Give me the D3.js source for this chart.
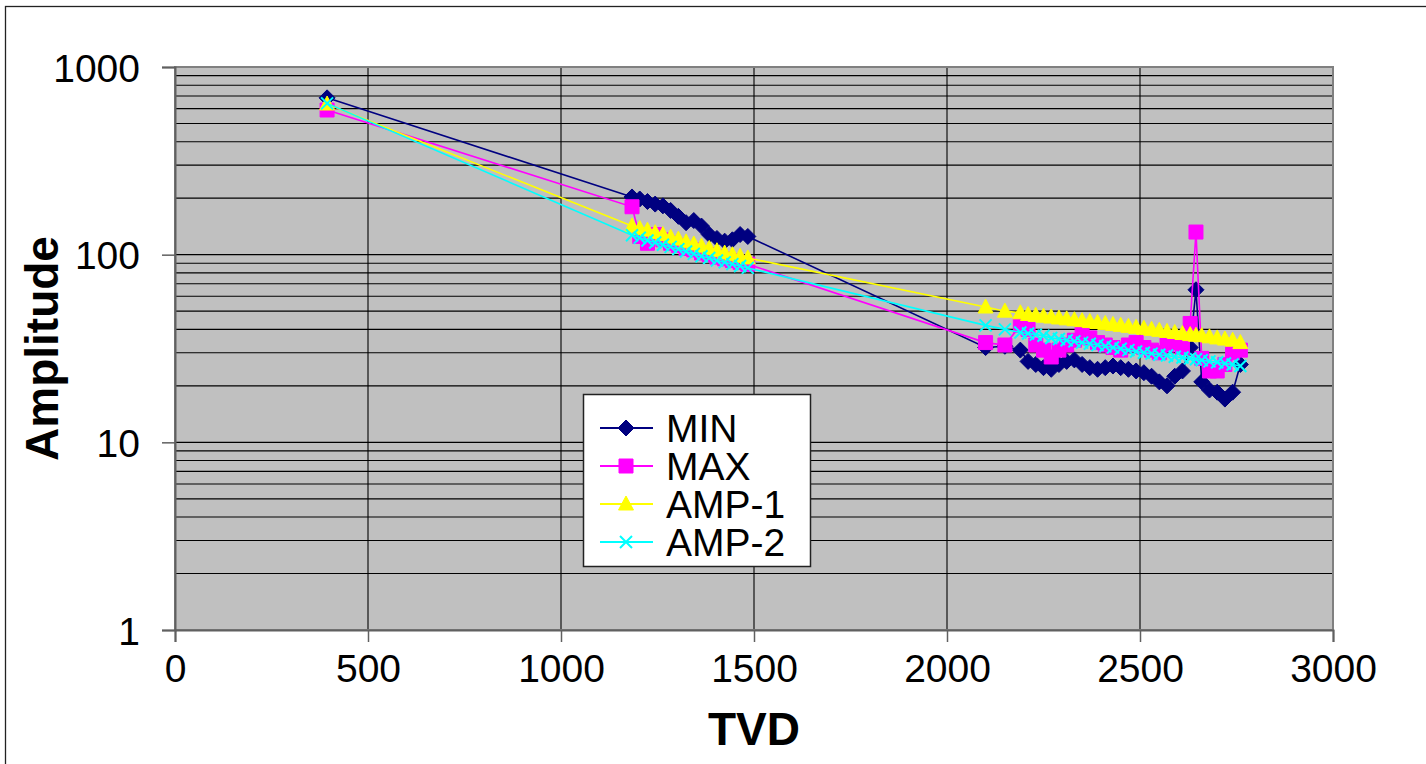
<!DOCTYPE html>
<html><head><meta charset="utf-8">
<script src="https://cdn.jsdelivr.net/npm/d3@7"></script>
<style>body{margin:0;background:#fff}svg{display:block;font-family:"Liberation Sans",Arial,sans-serif}</style>
</head><body><svg id="c" width="1426" height="764"></svg>
<script>
const tvd = [394,
 1184,1204,1224,1244,1264,1284,1304,1324,1344,1364,1384,1404,1424,1444,1464,1484,
 2100,2150,
 2190,2210,2230,2250,2270,2290,2310,2330,2350,2370,2390,2410,2430,2450,2470,2490,2510,2530,2550,2570,2590,2610,2630,
 2645,
 2660,2680,2700,2720,2740,2760];
const minVals = [685,
 203,198,192,186,182,172,160,148,152,142,128,122,118,120,128,125,
 32,32.5,
 31,27,26,25,24.5,26,27,27.5,26,25,24.5,25,25.5,25,24.5,24,23.5,22.5,21,20,22.5,24,32,
 65,
 21,19,18.5,17,18.5,26];
const maxVals = [590,
 180,125,115,128,120,115,112,108,106,102,100,97,95,93,91,89,
 34,33,
 42,40,33,31,28.5,31,33,35,38,36,34,33,32,31,33,34,32,31,30,33,34,32,43,
 132,
 28,24,24,26,30,31];
const amp1Vals = [635,
 142,138,135,131,128,124,121,117,114,111,108,105,102,100,98,96,
 52.6,50,
 49,48,47.5,47,46.5,46,45.5,45,44.5,44,43.5,43,42.5,42,41.5,41,40.5,40,39.5,39,38.5,38,37.5,
 37.2,
 37,36.5,36,35.5,35,34];
const amp2Vals = [640,
 127,123,119,116,113,110,107,104,101,98,96,93,91,89,87,85,
 42,40,
 38.5,38,37.5,37,36,35.5,35,34.5,34,33.5,33,32.5,32,31.5,31,30.5,30,29.7,29.3,29,28.6,28.3,28,
 27.7,
 27.4,27,26.7,26.3,26,25.5];
const seriesNames = ["MIN","MAX","AMP-1","AMP-2"];
const xTicks = [0,500,1000,1500,2000,2500,3000];
const yTicks = [1,10,100,1000];

const series = [
 {name:seriesNames[0], vals:minVals, color:"#000080", marker:"diamond"},
 {name:seriesNames[1], vals:maxVals, color:"#FF00FF", marker:"square"},
 {name:seriesNames[2], vals:amp1Vals, color:"#FFFF00", marker:"triangle"},
 {name:seriesNames[3], vals:amp2Vals, color:"#00FFFF", marker:"x"}
];

const svg = d3.select("#c");
const L=175, R=1333, T=67, B=630;
const x = d3.scaleLinear().domain([0,3000]).range([L,R]);
const y = d3.scaleLog().domain([1,1000]).range([B,T]);

svg.append("rect").attr("x",5.5).attr("y",6.5).attr("width",1440).attr("height",780)
  .attr("fill","#fff").attr("stroke","#222").attr("stroke-width",1.3);

svg.append("rect").attr("x",L).attr("y",T).attr("width",R-L).attr("height",B-T).attr("fill","#C0C0C0");

const gridY = [];
for (let k=0;k<3;k++) for (let m=1;m<=9;m++) gridY.push(m*Math.pow(10,k));
gridY.push(1000);
svg.append("g").selectAll("line").data(gridY).join("line")
  .attr("x1",L).attr("x2",R).attr("y1",d=>y(d)).attr("y2",d=>y(d))
  .attr("stroke","#000").attr("stroke-width",1.1);
svg.append("g").selectAll("line").data(xTicks.slice(1,-1)).join("line")
  .attr("x1",d=>x(d)).attr("x2",d=>x(d)).attr("y1",T).attr("y2",B)
  .attr("stroke","#000").attr("stroke-width",1.1);

svg.append("rect").attr("x",L).attr("y",T).attr("width",R-L).attr("height",B-T)
  .attr("fill","none").attr("stroke","#808080").attr("stroke-width",2);

const yAxis = d3.axisLeft(y).tickValues(yTicks).tickFormat(d3.format("d")).tickSize(13).tickPadding(22);
const gy = svg.append("g").attr("transform",`translate(${L},0)`).call(yAxis);
const xAxis = d3.axisBottom(x).tickValues(xTicks).tickFormat(d3.format("d")).tickSize(12).tickPadding(12);
const gx = svg.append("g").attr("transform",`translate(0,${B})`).call(xAxis);
[gx,gy].forEach(g=>{
  g.select(".domain").attr("stroke","#606060").attr("stroke-width",2);
  g.selectAll(".tick line").attr("stroke","#606060").attr("stroke-width",1.5);
  g.selectAll(".tick text").attr("font-size",39).attr("fill","#000")
   .attr("font-family","'Liberation Sans',Arial,sans-serif");
});
gy.selectAll(".tick text").attr("dy","0.36em");
gx.selectAll(".tick text").attr("dy","0.72em");

svg.append("text").attr("x",(L+R)/2).attr("y",745).attr("text-anchor","middle")
  .attr("font-size",46).attr("font-weight","bold").text("TVD");
svg.append("text").attr("transform",`translate(58,${(T+B)/2}) rotate(-90)`).attr("text-anchor","middle")
  .attr("font-size",46).attr("font-weight","bold").text("Amplitude");

function markerPath(type, cx, cy){
  if(type==="diamond") return `M${cx},${cy-8}L${cx+8},${cy}L${cx},${cy+8}L${cx-8},${cy}Z`;
  if(type==="square") return `M${cx-7},${cy-7}h14v14h-14Z`;
  if(type==="triangle") return `M${cx},${cy-8}L${cx+7.5},${cy+6}L${cx-7.5},${cy+6}Z`;
  return `M${cx-6},${cy-6}L${cx+6},${cy+6}M${cx+6},${cy-6}L${cx-6},${cy+6}`;
}
function drawMarker(g, type, color, cx, cy){
  const p = g.append("path").attr("d",markerPath(type,cx,cy));
  if(type==="x") p.attr("fill","none").attr("stroke",color).attr("stroke-width",2);
  else p.attr("fill",color).attr("stroke",color).attr("stroke-width",1);
}

const line = d3.line().x(d=>x(d[0])).y(d=>y(d[1]));
series.forEach(s=>{
  const pts = tvd.map((t,i)=>[t,s.vals[i]]);
  const g = svg.append("g");
  g.append("path").attr("d",line(pts)).attr("fill","none").attr("stroke",s.color).attr("stroke-width",1.6);
  pts.forEach(p=>drawMarker(g,s.marker,s.color,x(p[0]),y(p[1])));
});

const lg = svg.append("g");
lg.append("rect").attr("x",583.5).attr("y",394.5).attr("width",227).attr("height",172)
  .attr("fill","#fff").attr("stroke","#222").attr("stroke-width",1.5);
const rowsY = [428,466,504,542];
series.forEach((s,i)=>{
  const cy = rowsY[i];
  lg.append("line").attr("x1",600).attr("x2",653).attr("y1",cy).attr("y2",cy).attr("stroke",s.color).attr("stroke-width",2);
  drawMarker(lg,s.marker,s.color,626,cy);
  lg.append("text").attr("x",666).attr("y",cy).attr("dy","0.36em").attr("font-size",39).text(s.name);
});
</script></body></html>
